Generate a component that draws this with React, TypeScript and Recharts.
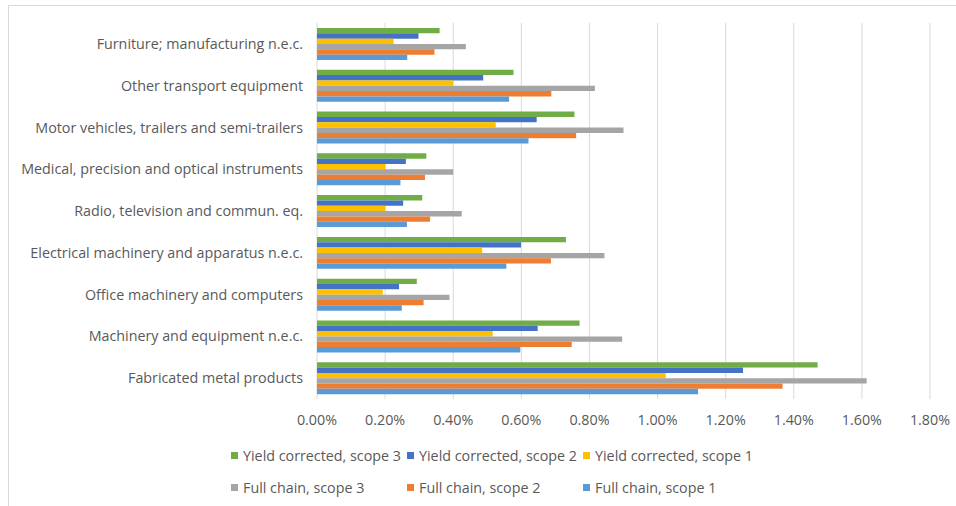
import React from "react";
import { BarChart, Bar, XAxis, YAxis, CartesianGrid } from "recharts";

const categories = [
  "Furniture; manufacturing n.e.c.",
  "Other transport equipment",
  "Motor vehicles, trailers and semi-trailers",
  "Medical, precision and optical instruments",
  "Radio, television and commun. eq.",
  "Electrical machinery and apparatus n.e.c.",
  "Office machinery and computers",
  "Machinery and equipment n.e.c.",
  "Fabricated metal products",
];

// values in percent
const yieldScope3 = [0.36, 0.577, 0.756, 0.321, 0.309, 0.731, 0.293, 0.771, 1.47];
const yieldScope2 = [0.298, 0.488, 0.645, 0.261, 0.253, 0.599, 0.241, 0.648, 1.251];
const yieldScope1 = [0.225, 0.4, 0.525, 0.201, 0.201, 0.485, 0.193, 0.516, 1.024];
const fullScope3 = [0.437, 0.816, 0.9, 0.4, 0.425, 0.844, 0.389, 0.896, 1.614];
const fullScope2 = [0.345, 0.688, 0.761, 0.317, 0.332, 0.687, 0.313, 0.748, 1.367];
const fullScope1 = [0.265, 0.564, 0.621, 0.245, 0.264, 0.556, 0.249, 0.597, 1.119];

const xTicks = [0, 0.2, 0.4, 0.6, 0.8, 1.0, 1.2, 1.4, 1.6, 1.8];

const series = [
  { key: "y3", name: "Yield corrected, scope 3", color: "#70AD47", values: yieldScope3 },
  { key: "y2", name: "Yield corrected, scope 2", color: "#4472C4", values: yieldScope2 },
  { key: "y1", name: "Yield corrected, scope 1", color: "#FFC000", values: yieldScope1 },
  { key: "f3", name: "Full chain, scope 3", color: "#A5A5A5", values: fullScope3 },
  { key: "f2", name: "Full chain, scope 2", color: "#ED7D31", values: fullScope2 },
  { key: "f1", name: "Full chain, scope 1", color: "#5B9BD5", values: fullScope1 },
];

const data = categories.map((c, i) => {
  const row: Record<string, string | number> = { name: c };
  series.forEach((s) => {
    row[s.key] = s.values[i];
  });
  return row;
});

const FONT = "'Open Sans', sans-serif";
const TEXT = "#595959";
const FS = 14.3;

export default function App() {
  return (
    <div
      style={{
        position: "fixed",
        left: 0,
        top: 0,
        width: 956,
        height: 506,
        overflow: "hidden",
        background: "#fff",
        fontFamily: FONT,
      }}
    >
      <div
        style={{
          position: "absolute",
          left: 8,
          top: 5,
          width: 980,
          height: 540,
          border: "1px solid #d9d9d9",
        }}
      />
      <div style={{ position: "absolute", left: 0, top: 0 }}>
        <BarChart
          width={956}
          height={506}
          data={data}
          layout="vertical"
          margin={{ top: 23, right: 26, bottom: 77, left: 0 }}
          barSize={5.33}
          barGap={0}
        >
          <CartesianGrid horizontal={false} vertical={true} stroke="#d9d9d9" strokeWidth={1} />
          <XAxis
            type="number"
            domain={[0, 1.8]}
            ticks={xTicks}
            tickFormatter={(v: number) => `${v.toFixed(2)}%`}
            axisLine={false}
            tickLine={false}
            tickSize={0}
            tickMargin={16}
            height={30}
            interval={0}
            tick={{ fill: TEXT, fontSize: FS, fontFamily: FONT }}
          />
          <YAxis
            type="category"
            dataKey="name"
            width={317}
            axisLine={false}
            tickLine={false}
            tickSize={0}
            tickMargin={14}
            interval={0}
            tick={{ fill: TEXT, fontSize: FS, fontFamily: FONT }}
          />
          {series.map((s) => (
            <Bar
              key={s.key}
              dataKey={s.key}
              name={s.name}
              fill={s.color}
              isAnimationActive={false}
            />
          ))}
        </BarChart>
      </div>
      {[0, 1].map((row) => (
        <div key={row}>
          {series.slice(row * 3, row * 3 + 3).map((s, j) => (
            <div
              key={s.key}
              style={{
                position: "absolute",
                left: 231 + j * 176,
                top: row === 0 ? 445 : 477,
                height: 20,
                display: "flex",
                alignItems: "center",
                whiteSpace: "nowrap",
                fontSize: FS,
                color: TEXT,
                fontFamily: FONT,
              }}
            >
              <span
                style={{
                  display: "inline-block",
                  width: 7,
                  height: 7,
                  background: s.color,
                  marginRight: 5,
                }}
              />
              {s.name}
            </div>
          ))}
        </div>
      ))}
    </div>
  );
}
